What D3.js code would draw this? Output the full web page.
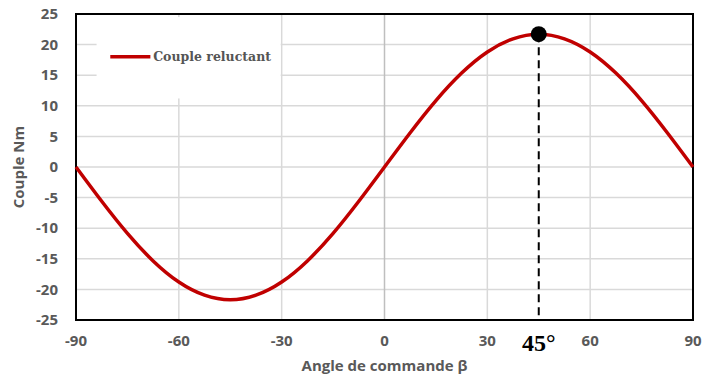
<!DOCTYPE html>
<html>
<head>
<meta charset="utf-8">
<script src="https://cdn.jsdelivr.net/npm/d3@7"></script>
<style>
  html, body { margin: 0; padding: 0; background: #fff; }
  svg { display: block; }
</style>
</head>
<body>
<div id="chart"></div>
<script>
// Reluctance torque versus control angle β
const angles = [-90, -82.5, -75, -67.5, -60, -52.5, -45, -37.5, -30, -22.5, -15, -7.5,
                0, 7.5, 15, 22.5, 30, 37.5, 45, 52.5, 60, 67.5, 75, 82.5, 90];
const torque = [0, -5.6, -10.85, -15.35, -18.8, -20.95, -21.7, -20.95, -18.8, -15.35, -10.85, -5.6,
                0, 5.6, 10.85, 15.35, 18.8, 20.95, 21.7, 20.95, 18.8, 15.35, 10.85, 5.6, 0];
const xTicks = [-90, -60, -30, 0, 30, 60, 90];
const yTicks = [-25, -20, -15, -10, -5, 0, 5, 10, 15, 20, 25];
const seriesName = "Couple reluctant";
const peakAngle = 45;
const peakTorque = 21.7;
const peakLabel = "45°";

const W = 702, H = 376;
const m = { left: 76, right: 9, top: 14, bottom: 56 };

const svg = d3.select("#chart").append("svg").attr("width", W).attr("height", H);

const x = d3.scaleLinear().domain([-90, 90]).range([m.left, W - m.right]);
const y = d3.scaleLinear().domain([-25, 25]).range([H - m.bottom, m.top]);

const grid = svg.append("g");
grid.selectAll("line.h").data(yTicks).join("line")
  .attr("x1", x(-90)).attr("x2", x(90))
  .attr("y1", d => y(d)).attr("y2", d => y(d))
  .attr("stroke", "#d9d9d9").attr("stroke-width", 1.5);
grid.selectAll("line.v").data(xTicks).join("line")
  .attr("x1", d => x(d)).attr("x2", d => x(d))
  .attr("y1", y(25)).attr("y2", y(-25))
  .attr("stroke", d => d === 0 ? "#bfbfbf" : "#d9d9d9").attr("stroke-width", 1.5);

// Legend panel masks the grid behind it
svg.append("rect").attr("x", x(-84)).attr("y", y(24.5))
  .attr("width", x(-30) - x(-84) - 1).attr("height", y(11.2) - y(24.5))
  .attr("fill", "#fff");
svg.append("line").attr("x1", x(-80)).attr("x2", x(-68.3))
  .attr("y1", y(18)).attr("y2", y(18))
  .attr("stroke", "#c00000").attr("stroke-width", 3.5);
svg.append("text").attr("x", x(-67.5)).attr("y", y(18)).attr("dy", "0.35em")
  .attr("font-family", "'DejaVu Serif', 'Liberation Serif', serif")
  .attr("font-weight", "bold").attr("font-size", 12.5).attr("fill", "#555")
  .text(seriesName);

// Plot frame
svg.append("rect").attr("x", x(-90)).attr("y", y(25))
  .attr("width", x(90) - x(-90)).attr("height", y(-25) - y(25))
  .attr("fill", "none").attr("stroke", "#000").attr("stroke-width", 2);

// Torque curve
const pts = angles.map((a, i) => [a, torque[i]]);
svg.append("path").datum(pts)
  .attr("d", d3.line().x(d => x(d[0])).y(d => y(d[1])).curve(d3.curveNatural))
  .attr("fill", "none").attr("stroke", "#c00000").attr("stroke-width", 3.5);

// Peak marker and drop line
svg.append("line").attr("x1", x(peakAngle)).attr("x2", x(peakAngle))
  .attr("y1", y(peakTorque)).attr("y2", y(-25))
  .attr("stroke", "#000").attr("stroke-width", 2).attr("stroke-dasharray", "8,5");
svg.append("circle").attr("cx", x(peakAngle)).attr("cy", y(peakTorque)).attr("r", 8)
  .attr("fill", "#000");

// Tick labels
const tickFont = "'Open Sans', 'DejaVu Sans', sans-serif";
svg.selectAll("text.yt").data(yTicks).join("text")
  .attr("x", m.left - 18).attr("y", d => y(d)).attr("dy", "0.35em")
  .attr("text-anchor", "end").attr("font-family", tickFont).attr("font-weight", "bold")
  .attr("font-size", 15).attr("fill", "#595959").text(d => d);
svg.selectAll("text.xt").data(xTicks).join("text")
  .attr("x", d => x(d)).attr("y", y(-25) + 20.5).attr("dy", "0.35em")
  .attr("text-anchor", "middle").attr("font-family", tickFont).attr("font-weight", "bold")
  .attr("font-size", 15).attr("fill", "#595959").text(d => d);

// Axis titles
svg.append("text").attr("x", (x(-90) + x(90)) / 2).attr("y", 366).attr("dy", "0.35em")
  .attr("text-anchor", "middle").attr("font-family", tickFont).attr("font-weight", "bold")
  .attr("font-size", 15).attr("fill", "#595959").text("Angle de commande β");
svg.append("text").attr("transform", `translate(19,${y(0)}) rotate(-90)`).attr("dy", "0.35em")
  .attr("text-anchor", "middle").attr("font-family", tickFont).attr("font-weight", "bold")
  .attr("font-size", 15).attr("fill", "#595959").text("Couple Nm");

// Peak angle annotation
svg.append("text").attr("x", x(peakAngle)).attr("y", 351)
  .attr("text-anchor", "middle").attr("font-family", "'Liberation Serif', 'Times New Roman', serif")
  .attr("font-weight", "bold").attr("font-size", 24).attr("fill", "#000").text(peakLabel);
</script>
</body>
</html>
